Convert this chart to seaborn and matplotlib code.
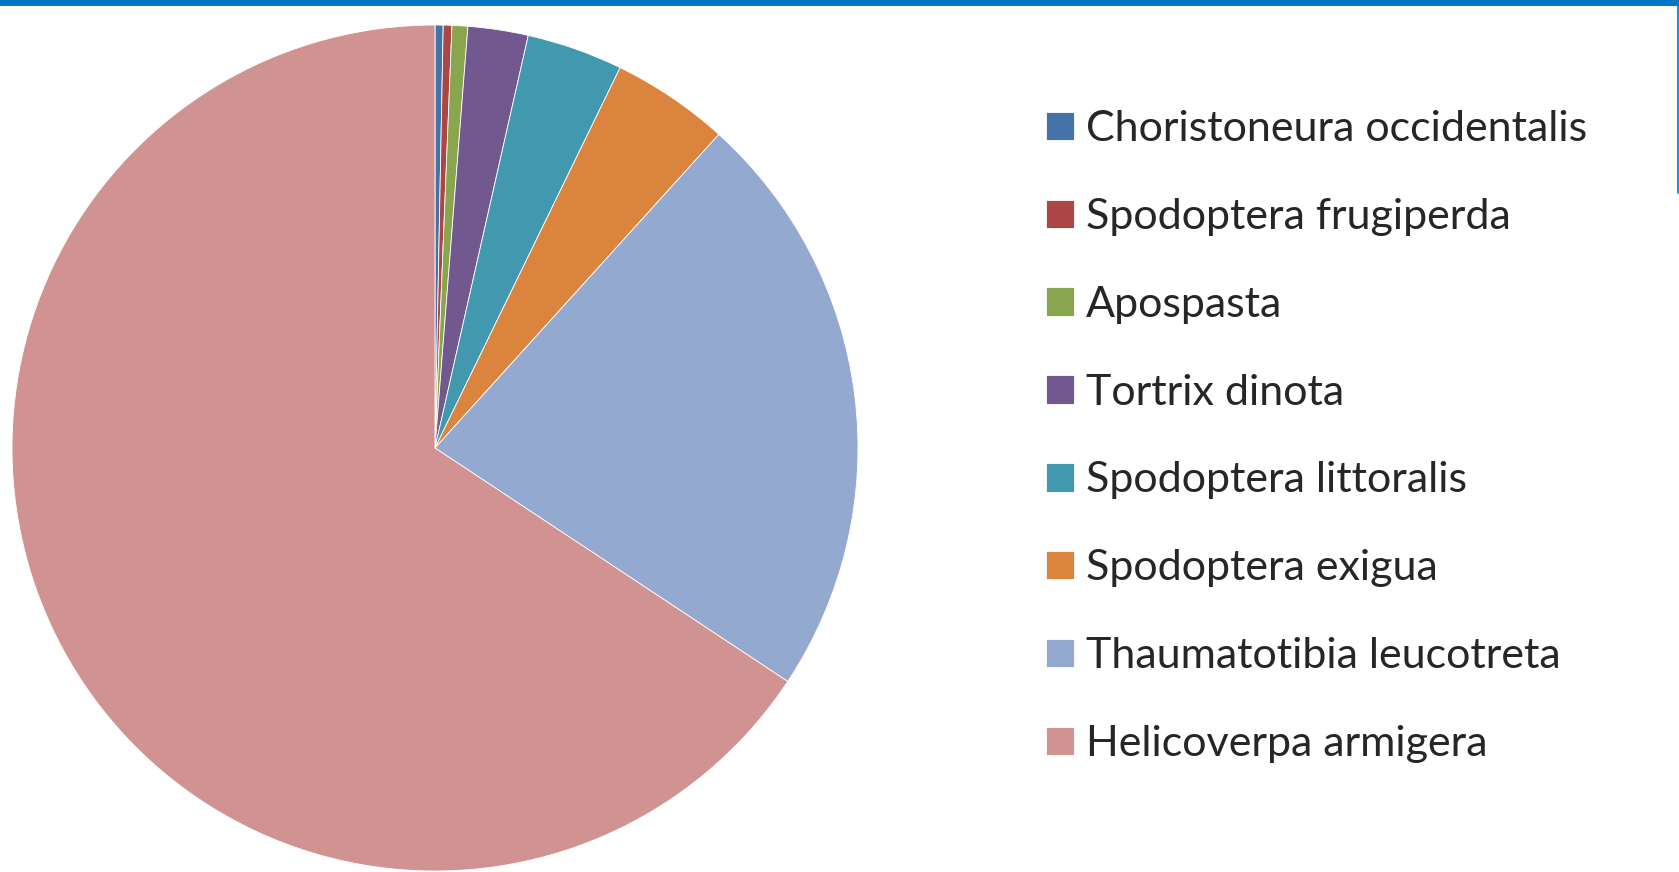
import matplotlib
matplotlib.use("Agg")
import matplotlib.pyplot as plt
import matplotlib.patches as mpatches
import seaborn as sns

# ── data (share of records per species, %) ─────────────────
species = [
    "Choristoneura occidentalis",
    "Spodoptera frugiperda",
    "Apospasta",
    "Tortrix dinota",
    "Spodoptera littoralis",
    "Spodoptera exigua",
    "Thaumatotibia leucotreta",
    "Helicoverpa armigera",
]
shares = [0.31, 0.33, 0.60, 2.30, 3.67, 4.50, 22.60, 65.70]
colors = ["#4572A7", "#AA4643", "#89A54E", "#71588F",
          "#4198AF", "#DB843D", "#93A9CF", "#D19392"]

sns.set_theme(style="white")
plt.rcParams['font.family'] = ['Lato', 'DejaVu Sans']

W, H = 1679, 872
fig = plt.figure(figsize=(W / 100, H / 100), dpi=100)
fig.patch.set_facecolor("white")

# pie axes: centre ~ (435, 448) px, radius ~ 423 px
r = 423
cx, cy = 435, 448
ax = fig.add_axes([(cx - r) / W, (H - cy - r) / H, 2 * r / W, 2 * r / H])
wedges, _ = ax.pie(shares, colors=colors, startangle=90, counterclock=False,
                   radius=1.0, wedgeprops=dict(edgecolor="white", linewidth=0.6))
ax.set_xlim(-1, 1)
ax.set_ylim(-1, 1)
ax.set_aspect("equal")
ax.axis("off")

# legend on the right
leg = fig.legend(wedges, species, loc="upper left",
                 bbox_to_anchor=(1029 / W, 1 - 93 / H),
                 frameon=False, fontsize=31, handlelength=0.64,
                 handleheight=0.64, handletextpad=0.29, labelspacing=1.157,
                 borderaxespad=0)

# blue top border and thin right rule
fig.add_artist(mpatches.Rectangle((0, 1 - 6 / H), 1, 6 / H,
                                  transform=fig.transFigure,
                                  color="#0077C8", lw=0))
fig.add_artist(plt.Line2D([1677.5 / W, 1677.5 / W], [1, 1 - 193 / H],
                          transform=fig.transFigure, color="#0077C8", lw=1.2))

fig.savefig("out.png", dpi=100, facecolor="white")
